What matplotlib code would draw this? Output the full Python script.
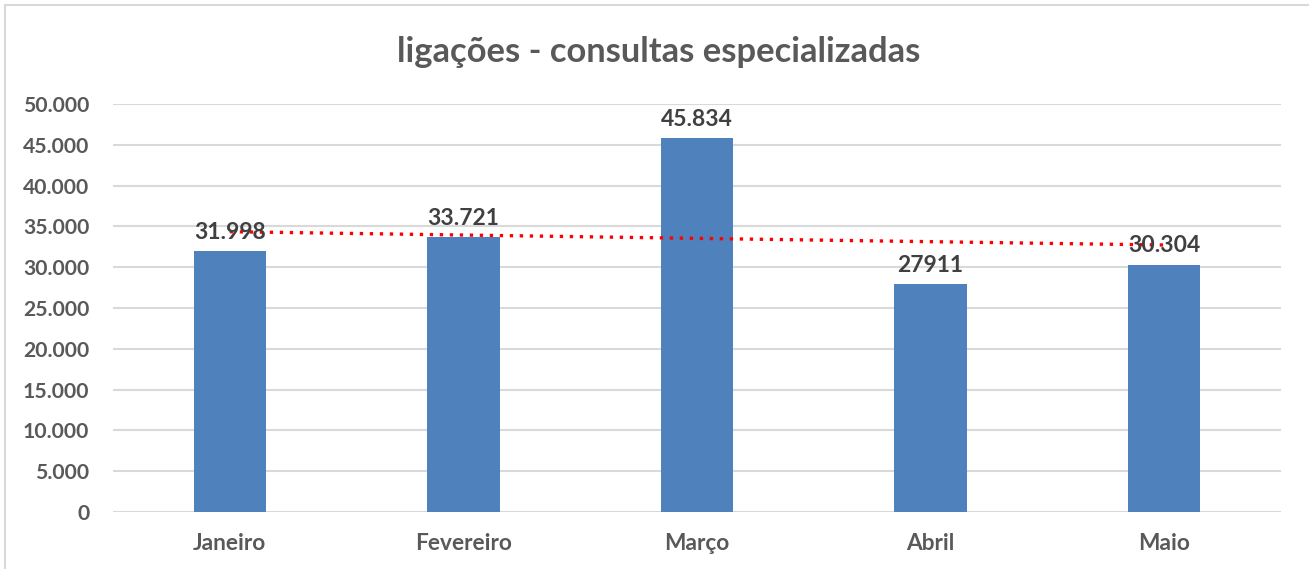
import matplotlib.pyplot as plt
from matplotlib.lines import Line2D

months = ['Janeiro', 'Fevereiro', 'Março', 'Abril', 'Maio']
calls = [31998, 33721, 45834, 27911, 30304]
labels = ['31.998', '33.721', '45.834', '27911', '30.304']
# trend line ends
trend_start = 34350
trend_end = 32720

yticks = list(range(0, 50001, 5000))
ytick_labels = ['0'] + ['{:,}'.format(v).replace(',', '.') for v in yticks[1:]]

plt.rcParams['font.family'] = ['Lato', 'DejaVu Sans']
plt.rcParams['font.weight'] = 'bold'

fig = plt.figure(figsize=(13.09, 5.69), dpi=100)
ax = fig.add_axes([113 / 1309, 1 - 512 / 569, 1168 / 1309, 408 / 569])

x = list(range(len(months)))
ax.bar(x, calls, width=0.31, color='#4f81bd', zorder=2)
ax.plot([x[0], x[-1]], [trend_start, trend_end], color='#ff0000',
        linestyle=(0, (1, 2)), linewidth=2.4, zorder=3)

for xi, v, lab in zip(x, calls, labels):
    ax.annotate(lab, (xi, v), xytext=(0, 6), textcoords='offset points',
                ha='center', va='bottom', fontsize=16.5, fontweight='bold',
                color='#404040', zorder=4)

ax.set_xlim(-0.5, 4.5)
ax.set_ylim(0, 50000)
ax.set_yticks(yticks)
ax.set_yticklabels(ytick_labels, fontsize=15.2)
ax.set_xticks(x)
ax.set_xticklabels(months, fontsize=16.3)
ax.tick_params(axis='both', length=0, labelcolor='#595959')
ax.tick_params(axis='y', pad=17)
ax.tick_params(axis='x', pad=15)
for lab in ax.get_xticklabels() + ax.get_yticklabels():
    lab.set_fontweight('bold')
ax.grid(axis='y', color='#d9d9d9', linewidth=1.5, zorder=0)
for s in ax.spines.values():
    s.set_visible(False)

fig.text(659 / 1309, 1 - 52 / 569, 'ligações - consultas especializadas',
         ha='center', va='center', fontsize=24.8, fontweight='bold', color='#595959')

# light frame of the chart area
fig.add_artist(Line2D([5 / 1309, 5 / 1309], [0, 1 - 5 / 569], color='#d9d9d9', linewidth=1.5))
fig.add_artist(Line2D([5 / 1309, 1], [1 - 5 / 569, 1 - 5 / 569], color='#d9d9d9', linewidth=1.5))

fig.savefig('out.png', dpi=100)
